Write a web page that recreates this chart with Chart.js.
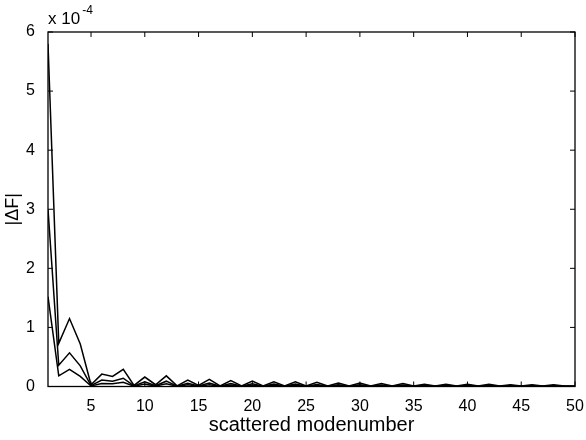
<!DOCTYPE html>
<html><head><meta charset="utf-8">
<script src="https://cdn.jsdelivr.net/npm/chart.js@4"></script>
<style>html,body{margin:0;padding:0;background:#fff}</style>
</head><body>
<canvas id="c" width="586" height="440" style="width:586px;height:440px;display:block"></canvas>
<script>
const modeNumbers = [1,2,3,4,5,6,7,8,9,10,11,12,13,14,15,16,17,18,19,20,21,22,23,24,25,26,27,28,29,30,31,32,33,34,35,36,37,38,39,40,41,42,43,44,45,46,47,48,49,50];
const dFUpper = [5.8e-4,0.73e-4,1.15e-4,0.72e-4,0.03e-4,0.21e-4,0.17e-4,0.29e-4,0.02e-4,0.16e-4,0.03e-4,0.18e-4,0.01e-4,0.11e-4,0.02e-4,0.12e-4,0.01e-4,0.10e-4,0.01e-4,0.09e-4,0.01e-4,0.08e-4,0.01e-4,0.08e-4,0.01e-4,0.07e-4,0.01e-4,0.06e-4,0.01e-4,0.06e-4,0.01e-4,0.05e-4,0.01e-4,0.05e-4,0.01e-4,0.04e-4,0.01e-4,0.04e-4,0.01e-4,0.04e-4,0.01e-4,0.04e-4,0.01e-4,0.03e-4,0.01e-4,0.03e-4,0.01e-4,0.03e-4,0.01e-4,0.01e-4];
const dFMiddle = [3.0e-4,0.36e-4,0.57e-4,0.35e-4,0.015e-4,0.11e-4,0.09e-4,0.14e-4,0.01e-4,0.08e-4,0.015e-4,0.09e-4,0.005e-4,0.055e-4,0.01e-4,0.06e-4,0.005e-4,0.05e-4,0.005e-4,0.045e-4,0.005e-4,0.04e-4,0.005e-4,0.04e-4,0.005e-4,0.035e-4,0.005e-4,0.03e-4,0.005e-4,0.03e-4,0.005e-4,0.025e-4,0.005e-4,0.025e-4,0.005e-4,0.02e-4,0.005e-4,0.02e-4,0.005e-4,0.02e-4,0.005e-4,0.02e-4,0.005e-4,0.015e-4,0.005e-4,0.015e-4,0.005e-4,0.015e-4,0.005e-4,0.005e-4];
const dFLower = [1.52e-4,0.18e-4,0.29e-4,0.17e-4,0.008e-4,0.05e-4,0.045e-4,0.07e-4,0.005e-4,0.04e-4,0.008e-4,0.045e-4,0.003e-4,0.028e-4,0.005e-4,0.03e-4,0.003e-4,0.025e-4,0.003e-4,0.022e-4,0.003e-4,0.02e-4,0.003e-4,0.02e-4,0.003e-4,0.018e-4,0.003e-4,0.015e-4,0.003e-4,0.015e-4,0.003e-4,0.013e-4,0.003e-4,0.013e-4,0.003e-4,0.01e-4,0.003e-4,0.01e-4,0.003e-4,0.01e-4,0.003e-4,0.01e-4,0.003e-4,0.008e-4,0.003e-4,0.008e-4,0.003e-4,0.008e-4,0.003e-4,0.003e-4];
const xTickValues = [5,10,15,20,25,30,35,40,45,50];
const yTickValues = [0,1e-4,2e-4,3e-4,4e-4,5e-4,6e-4];
const yTickLabels = ['0','1','2','3','4','5','6'];
const yMultiplierBase = 'x 10';
const yMultiplierExp = '-4';
const xTitle = 'scattered modenumber';
const yTitle = '|\u0394F|';

const FONT = '"Liberation Sans", Arial, Helvetica, sans-serif';

const boxPlugin = {
  id: 'matlabBox',
  afterDatasetsDraw(chart) {
    const {ctx, chartArea: a, scales} = chart;
    ctx.save();
    ctx.strokeStyle = '#000';
    ctx.lineWidth = 1.3;
    ctx.strokeRect(a.left, a.top, a.right - a.left, a.bottom - a.top);
    const L = 5;
    ctx.lineWidth = 1;
    ctx.beginPath();
    scales.x.ticks.forEach(t => {
      const px = scales.x.getPixelForValue(t.value);
      ctx.moveTo(px, a.bottom); ctx.lineTo(px, a.bottom - L);
      ctx.moveTo(px, a.top); ctx.lineTo(px, a.top + L);
    });
    scales.y.ticks.forEach(t => {
      const py = scales.y.getPixelForValue(t.value);
      ctx.moveTo(a.left, py); ctx.lineTo(a.left + L, py);
      ctx.moveTo(a.right, py); ctx.lineTo(a.right - L, py);
    });
    ctx.stroke();
    ctx.fillStyle = '#000';
    ctx.textBaseline = 'alphabetic';
    ctx.textAlign = 'left';
    ctx.font = '17px ' + FONT;
    const bx = a.left, by = a.top - 8;
    ctx.fillText(yMultiplierBase, bx, by);
    const w = ctx.measureText(yMultiplierBase).width;
    ctx.font = '12px ' + FONT;
    ctx.fillText(yMultiplierExp, bx + w + 2, by - 10);
    ctx.restore();
  }
};

const lineStyle = {borderColor: '#000', borderWidth: 1.5, pointRadius: 0, tension: 0, fill: false};

new Chart(document.getElementById('c'), {
  type: 'line',
  data: {
    labels: modeNumbers,
    datasets: [
      Object.assign({label: 'upper', data: modeNumbers.map((x, i) => ({x, y: dFUpper[i]}))}, lineStyle),
      Object.assign({label: 'middle', data: modeNumbers.map((x, i) => ({x, y: dFMiddle[i]}))}, lineStyle),
      Object.assign({label: 'lower', data: modeNumbers.map((x, i) => ({x, y: dFLower[i]}))}, lineStyle)
    ]
  },
  options: {
    responsive: false,
    animation: false,
    devicePixelRatio: 1,
    layout: {padding: {left: 0, right: 11, top: 32, bottom: 0}},
    plugins: {legend: {display: false}, tooltip: {enabled: false}},
    scales: {
      x: {
        type: 'linear', min: 1, max: 50,
        afterBuildTicks: s => { s.ticks = xTickValues.map(v => ({value: v})); },
        afterFit: s => { s.height = 53.5; },
        grid: {display: false}, border: {display: false},
        ticks: {color: '#000', padding: 2, maxRotation: 0, autoSkip: false, font: {family: FONT, size: 16}, callback: v => String(v)},
        title: {display: true, text: xTitle, color: '#000', font: {family: FONT, size: 20}, padding: {top: 0, bottom: 3}}
      },
      y: {
        type: 'linear', min: 0, max: 6e-4,
        afterBuildTicks: s => { s.ticks = yTickValues.map(v => ({value: v})); },
        afterFit: s => { s.width = 48; },
        grid: {display: false}, border: {display: false},
        ticks: {color: '#000', padding: 5, font: {family: FONT, size: 16}, callback: (v) => yTickLabels[yTickValues.findIndex(t => Math.abs(t - v) < 1e-9)]},
        title: {display: true, text: yTitle, color: '#000', font: {family: FONT, size: 18}, padding: {top: 2, bottom: 0}}
      }
    }
  },
  plugins: [boxPlugin]
});
</script>
</body></html>
